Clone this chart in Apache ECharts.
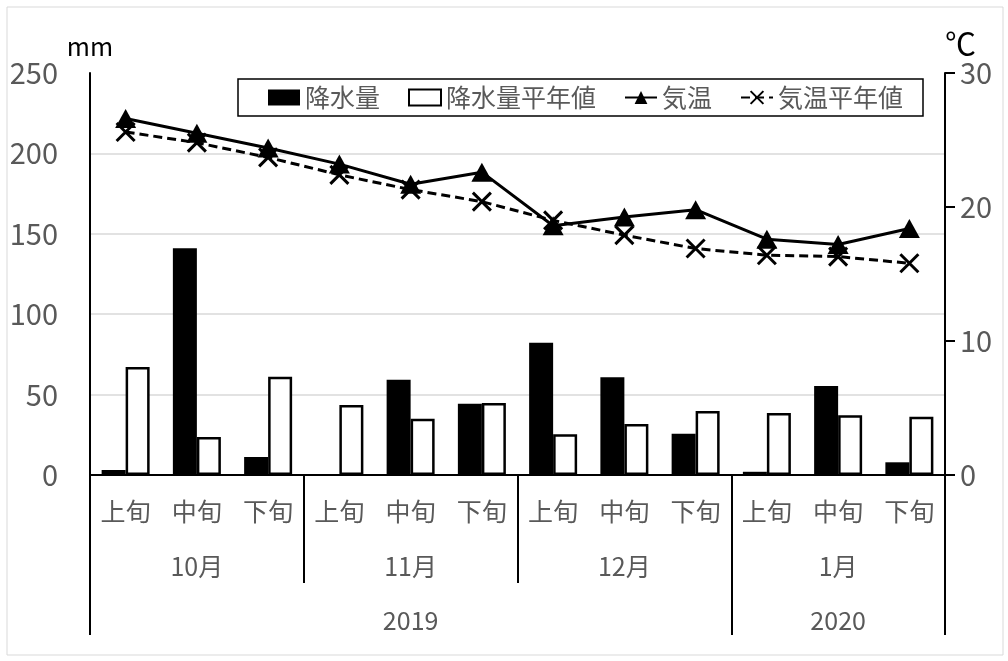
<!DOCTYPE html>
<html>
<head>
<meta charset="utf-8">
<script src="https://cdn.jsdelivr.net/npm/echarts@6/dist/echarts.min.js"></script>
<style>
html,body{margin:0;padding:0;background:#fff;}
#chart{width:1008px;height:661px;}
</style>
</head>
<body>
<div id="chart"></div>
<script>
const subPeriods = ['上旬','中旬','下旬','上旬','中旬','下旬','上旬','中旬','下旬','上旬','中旬','下旬'];
const months = ['10月','11月','12月','1月'];
const yearLabels = ['', '', '', '', '2019', '', '', '', '', '', '2020', ''];
const yearBoundaryIdx = [0, 9];
const precip = [3.1, 141, 11.2, 0, 59.3, 44.3, 82.3, 60.8, 25.7, 2, 55.3, 7.9];
const precipNormal = [67.2, 23.6, 61.1, 43.5, 35, 44.8, 25.3, 31.7, 39.8, 38.6, 37.1, 36.2];
const temp = [26.6, 25.5, 24.4, 23.2, 21.7, 22.6, 18.6, 19.25, 19.8, 17.6, 17.2, 18.4];
const tempNormal = [25.6, 24.8, 23.7, 22.4, 21.3, 20.4, 19.0, 17.9, 16.9, 16.4, 16.3, 15.8];
const seriesNames = ['降水量','降水量平年値','気温','気温平年値'];

const FONT = '"Noto Sans CJK JP", "Noto Sans", sans-serif';
const GREY = '#595959';
const chart = echarts.init(document.getElementById('chart'));
const xSymbol = 'path://M0,0L10,10M0,10L10,0';

chart.setOption({
  animation: false,
  textStyle: {fontFamily: FONT},
  graphic: [{
    type: 'rect', shape: {x: 7, y: 7, width: 996, height: 648},
    style: {fill: 'none', stroke: '#d9d9d9', lineWidth: 1}, silent: true, z: -1
  }],
  legend: {
    left: 238, top: 79,
    padding: [6, 20, 6, 30],
    borderColor: '#000', borderWidth: 1.5,
    itemGap: 28, itemWidth: 32, itemHeight: 16,
    textStyle: {fontSize: 25, color: GREY, fontFamily: FONT},
    data: [
      {name: seriesNames[0], icon: 'rect'},
      {name: seriesNames[1], icon: 'rect'},
      {name: seriesNames[2]},
      {name: seriesNames[3]}
    ]
  },
  grid: {left: 90, right: 63, top: 73, bottom: 186, containLabel: false},
  xAxis: [{
    type: 'category', data: subPeriods, position: 'bottom',
    axisLine: {lineStyle: {color: '#000', width: 2}},
    axisTick: {show: false},
    axisLabel: {interval: 0, margin: 24, fontSize: 25, color: GREY, fontFamily: FONT}
  }, {
    type: 'category', data: months, position: 'bottom',
    axisLine: {show: false},
    axisTick: {show: true, length: 108, lineStyle: {color: '#000', width: 2}},
    axisLabel: {interval: 0, margin: 79, fontSize: 25, color: GREY, fontFamily: FONT}
  }, {
    type: 'category', data: yearLabels, position: 'bottom',
    axisLine: {show: false},
    axisTick: {show: true, length: 160, interval: (i) => yearBoundaryIdx.indexOf(i) >= 0, lineStyle: {color: '#000', width: 2}},
    axisLabel: {interval: 0, margin: 133, fontSize: 25, color: GREY, fontFamily: FONT}
  }],
  yAxis: [{
    type: 'value', min: 0, max: 250, interval: 50, position: 'left',
    name: 'mm', nameLocation: 'end', nameGap: 14,
    nameTextStyle: {fontSize: 25, color: '#000', fontFamily: FONT},
    axisLine: {show: true, lineStyle: {color: '#000', width: 2}},
    axisTick: {show: false},
    axisLabel: {margin: 32, fontSize: 29, color: GREY, fontFamily: FONT},
    splitLine: {show: true, showMaxLine: false, lineStyle: {color: '#d9d9d9', width: 1.5}}
  }, {
    type: 'value', min: 0, max: 30, interval: 10, position: 'right',
    name: '℃', nameLocation: 'end', nameGap: 11,
    nameTextStyle: {fontSize: 31, color: '#000', fontFamily: FONT, align: 'left', padding: [0, 0, 0, 0]},
    axisLine: {show: true, lineStyle: {color: '#000', width: 2}},
    axisTick: {show: true, length: 10, lineStyle: {color: '#000', width: 2}},
    axisLabel: {margin: 15, fontSize: 29, color: GREY, fontFamily: FONT},
    splitLine: {show: false}
  }],
  series: [{
    name: seriesNames[0], type: 'bar', data: precip, xAxisIndex: 0, yAxisIndex: 0,
    barWidth: 24, barGap: '0%',
    itemStyle: {color: '#000'}
  }, {
    name: seriesNames[1], type: 'bar', data: precipNormal, xAxisIndex: 0, yAxisIndex: 0,
    barWidth: 24, barGap: '0%',
    itemStyle: {color: '#fff', borderColor: '#000', borderWidth: 2.5}
  }, {
    name: seriesNames[2], type: 'line', data: temp, xAxisIndex: 0, yAxisIndex: 1,
    symbol: 'triangle', symbolSize: [21, 19],
    lineStyle: {color: '#000', width: 3},
    itemStyle: {color: '#000'}, z: 4
  }, {
    name: seriesNames[3], type: 'line', data: tempNormal, xAxisIndex: 0, yAxisIndex: 1,
    symbol: xSymbol, symbolSize: 18,
    lineStyle: {color: '#000', width: 3, type: [9, 5]},
    itemStyle: {color: 'rgba(0,0,0,0)', borderColor: '#000', borderWidth: 3}, z: 3
  }]
});
</script>
</body>
</html>
